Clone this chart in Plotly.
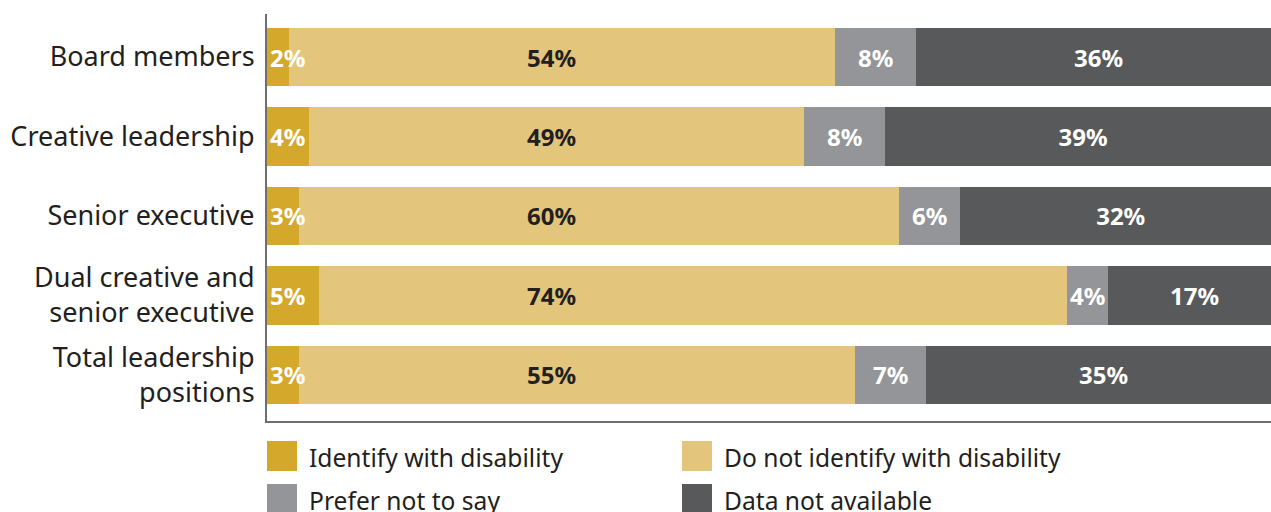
import plotly.graph_objects as go

# categories, top to bottom
categories = [
    "Board members",
    "Creative leadership",
    "Senior executive",
    "Dual creative and<br>senior executive",
    "Total leadership<br>positions",
]

# segment shares (%)
identify = [2.17, 4.14, 3.16, 5.13, 3.16]
not_identify = [53.85, 48.82, 59.17, 73.77, 54.83]
prefer_not = [7.99, 7.99, 6.02, 4.04, 7.00]
not_available = [35.99, 39.05, 31.66, 17.06, 35.01]

# printed labels on the bars
identify_lbl = ["2%", "4%", "3%", "5%", "3%"]
not_identify_lbl = ["54%", "49%", "60%", "74%", "55%"]
prefer_not_lbl = ["8%", "8%", "6%", "4%", "7%"]
not_available_lbl = ["36%", "39%", "32%", "17%", "35%"]

series_names = [
    "Identify with disability",
    "Do not identify with disability",
    "Prefer not to say",
    "Data not available",
]

# styling
W, H = 1271, 512
M_L, M_R, M_T, M_B = 267, 0, 14, 91
colors = ["#D4A82A", "#E3C67C", "#939598", "#58595B"]
text_colors = ["white", "#231F20", "white", "white"]
FONT = "Noto Sans"
INK = "#231F20"
AXIS = "#6D6E71"
LBL_SIZE = 24
LIGHT_LABEL_X = 28.1  # the light segment labels sit in a common column

fig = go.Figure()

values = [identify, not_identify, prefer_not, not_available]
labels = [identify_lbl, not_identify_lbl, prefer_not_lbl, not_available_lbl]

for i, (name, vals, lbl) in enumerate(zip(series_names, values, labels)):
    # gray and dark segments carry their own centred text
    show_text = i >= 2
    fig.add_trace(go.Bar(
        y=categories,
        x=vals,
        name=name,
        orientation="h",
        marker=dict(color=colors[i], line=dict(width=0)),
        text=lbl if show_text else None,
        textposition="inside",
        insidetextanchor="middle",
        textangle=0,
        constraintext="none",
        textfont=dict(family=FONT, size=LBL_SIZE, color=text_colors[i], weight="bold"),
        showlegend=False,
        hoverinfo="x+y",
    ))

# small gold labels start at the bar base and spill over the next segment
for cat, lbl in zip(categories, identify_lbl):
    fig.add_annotation(
        x=0, y=cat, xref="x", yref="y", xanchor="left", xshift=1,
        text=lbl, showarrow=False,
        font=dict(family=FONT, size=LBL_SIZE, color=text_colors[0], weight="bold"),
    )

# light segment labels in a fixed column
for cat, lbl in zip(categories, not_identify_lbl):
    fig.add_annotation(
        x=LIGHT_LABEL_X, y=cat, xref="x", yref="y",
        text=lbl, showarrow=False,
        font=dict(family=FONT, size=LBL_SIZE, color=text_colors[1], weight="bold"),
    )

# hand drawn legend (30px swatches) below the plot
pw = W - M_L - M_R
ph = H - M_T - M_B


def px_x(px):
    return (px - M_L) / pw


def px_y(py):
    return (H - M_B - py) / ph


legend_cols = [267, 682]
legend_rows = [441, 484]
for k, name in enumerate(series_names):
    x0 = legend_cols[k % 2]
    y0 = legend_rows[k // 2]
    fig.add_shape(
        type="rect", xref="paper", yref="paper",
        x0=px_x(x0), x1=px_x(x0 + 30), y0=px_y(y0), y1=px_y(y0 + 30),
        fillcolor=colors[k], line=dict(width=0),
    )
    fig.add_annotation(
        x=px_x(x0 + 40), y=px_y(y0 + 16), xref="paper", yref="paper",
        text=name, showarrow=False, xanchor="left", yanchor="middle",
        font=dict(family=FONT, size=24.6, color=INK),
    )

fig.update_layout(
    width=W, height=H,
    margin=dict(l=M_L, r=M_R, t=M_T, b=M_B, pad=0),
    barmode="stack",
    bargap=0.27,
    plot_bgcolor="white",
    paper_bgcolor="white",
    font=dict(family=FONT, color=INK),
)

fig.update_xaxes(
    range=[0, 99],
    showline=True, linecolor=AXIS, linewidth=2,
    showgrid=False, zeroline=False, showticklabels=False, ticks="",
)

fig.update_yaxes(
    type="category",
    categoryorder="array",
    categoryarray=categories,
    range=[4.579, -0.541],
    showline=True, linecolor=AXIS, linewidth=2,
    showgrid=False, zeroline=False, ticks="",
    ticklabelstandoff=5,
    tickfont=dict(family=FONT, size=27, color=INK),
)

# drop the default body margin so the figure sits at the page corner
fig.write_html(
    "out.html",
    config={"displayModeBar": False},
    post_script="document.body.style.margin='0';",
)
